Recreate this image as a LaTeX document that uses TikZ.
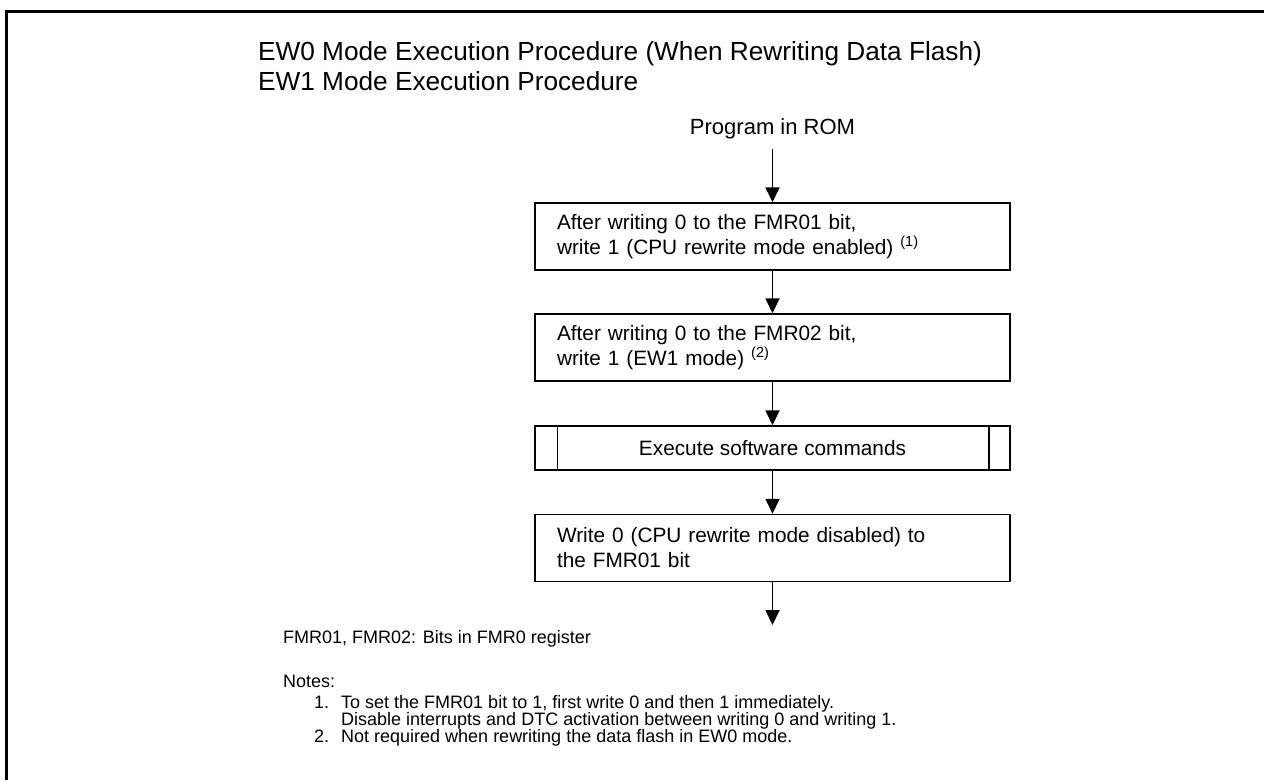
\documentclass[tikz,border=0pt]{standalone}
\usepackage{fontspec}
\setmainfont{Liberation Sans}
\usetikzlibrary{arrows.meta}

\begin{document}
\begin{tikzpicture}[x=1pt,y=-1pt,
		box/.style={draw,line width=1.5pt,minimum width=475pt,minimum height=67pt,text width=431pt,align=left,inner sep=0pt,font=\fontsize{20.8}{25}\selectfont},
		subbox/.style={draw,line width=1.5pt,minimum width=475pt,minimum height=44pt,inner sep=0pt,font=\fontsize{20.8}{25}\selectfont},
		flow/.style={-{Triangle[length=15pt,width=14pt]},line width=1.8pt},
		note/.style={anchor=base west,inner sep=0pt,font=\fontsize{18}{18}\selectfont}]
	% keret
	\useasboundingbox (0,0) rectangle (1264,780);
	\draw[line width=3pt] (6,780) -- (6,11) -- (1264,11);
	
	% cim
	\node[anchor=base west,inner sep=0pt,font=\fontsize{26.2}{30}\selectfont] (cim1) at (258,60) {EW0 Mode Execution Procedure (When Rewriting Data Flash)};
	\node[anchor=base west,inner sep=0pt,font=\fontsize{26.2}{30}\selectfont] (cim2) at (258,90) {EW1 Mode Execution Procedure};
	
	% lepesek
	\node[inner sep=10pt,font=\fontsize{22}{25}\selectfont] (rom) at (772.5,129) {Program in ROM};
	\node[box] (lep1) at (772.5,236.5) {After writing 0 to the FMR01 bit,\\write 1 (CPU rewrite mode enabled) \textsuperscript{(1)}};
	\node[box] (lep2) at (772.5,347.5) {After writing 0 to the FMR02 bit,\\write 1 (EW1 mode) \textsuperscript{(2)}};
	\node[subbox] (lep3) at (772.5,448) {Execute software commands};
	\draw[line width=1.5pt] ([xshift=23pt]lep3.north west) -- ([xshift=23pt]lep3.south west);
	\draw[line width=1.5pt] ([xshift=-22pt]lep3.north east) -- ([xshift=-22pt]lep3.south east);
	\node[box] (lep4) at (772.5,548) {Write 0 (CPU rewrite mode disabled) to\\the FMR01 bit};
	\coordinate (vege) at (772.5,625);
	
	% nyilak
	\draw[flow] (rom) -- (lep1);
	\draw[flow] (lep1) -- (lep2);
	\draw[flow] (lep2) -- (lep3);
	\draw[flow] (lep3) -- (lep4);
	\draw[flow] (lep4) -- (vege);
	
	% megjegyzesek
	\node[note] (bitek) at (283,643) {FMR01, FMR02: Bits in FMR0 register};
	\node[note] (megj) at (283,687) {Notes:};
	\node[note] (sz1) at (314,708) {1.};
	\node[note] (m1) at (341,708) {To set the FMR01 bit to 1, first write 0 and then 1 immediately.};
	\node[note] (m1b) at (341,725) {Disable interrupts and DTC activation between writing 0 and writing 1.};
	\node[note] (sz2) at (314,742) {2.};
	\node[note] (m2) at (341,742) {Not required when rewriting the data flash in EW0 mode.};
	
\end{tikzpicture}
\end{document}
